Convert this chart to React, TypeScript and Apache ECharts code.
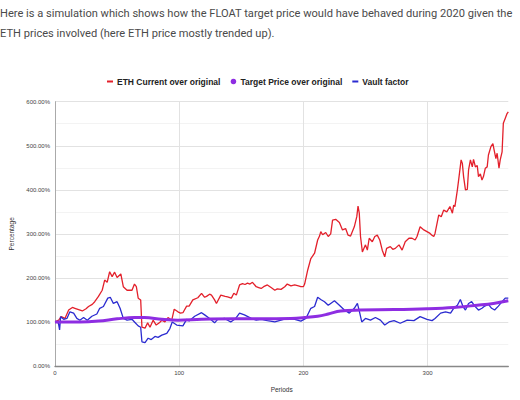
import React, { useEffect, useRef } from "react";
import * as echarts from "echarts";

const introLines = [
  "Here is a simulation which shows how the FLOAT target price would have behaved during 2020 given the",
  "ETH prices involved (here ETH price mostly trended up).",
];

const seriesNames = ["ETH Current over original", "Target Price over original", "Vault factor"];
const seriesColors = ["#e3202b", "#8e2de2", "#2b2bd0"];

const xTicks = [0, 100, 200, 300];
const yTicks = [0, 100, 200, 300, 400, 500, 600];

// [period, percent]
const ethCurrent: [number, number][] = [
  [0, 100], [3, 104], [5, 112], [8, 108], [11, 127], [14, 133], [16, 131], [19, 128], [22, 125], [25, 130],
  [27, 135], [30, 140], [32, 146], [35, 158], [38, 172], [40, 195], [42, 190], [44, 214], [46, 203], [48, 213],
  [50, 201], [53, 209], [55, 180], [58, 172], [62, 172], [64, 186], [65.5, 180], [67, 154], [69, 150], [70, 88],
  [72.5, 86], [74.6, 98], [76.5, 88], [79, 104], [81.5, 93], [84, 98], [86, 104], [88.5, 100], [91, 110], [94, 104],
  [96, 129], [99, 123], [101, 120], [103, 121], [106, 136], [108, 136], [111, 150], [115, 155], [118, 165], [120.5, 156],
  [122, 158], [124.5, 163], [126, 161], [128.5, 150], [130, 142], [133.5, 161], [137, 158], [139, 157], [142, 154], [144, 165],
  [146, 161], [148.6, 184], [151, 187], [153, 185], [155, 188], [157, 186], [159, 190], [162, 180], [164, 178], [166, 176],
  [168, 180], [171, 184], [174, 178], [177, 172], [179, 175], [182, 174], [185, 180], [187, 186], [190, 182], [193, 184],
  [196, 182], [198, 180], [200, 180], [201, 186], [203.5, 218], [206, 244], [209, 256], [211.5, 286], [213, 295], [214, 305],
  [215.5, 298], [218, 303], [220, 294], [222, 300], [223.5, 331], [226, 333], [229, 326], [231.5, 309], [234, 312], [236, 297],
  [238, 295], [241, 316], [243, 339], [244, 363], [245, 347], [246, 294], [247.5, 259], [250, 275], [251.5, 263], [253, 290],
  [255.5, 282], [257.5, 294], [259.5, 297], [261.5, 286], [263.5, 263], [265.5, 248], [267, 267], [270, 271], [272, 265], [274, 267],
  [277, 275], [279.5, 263], [282, 282], [285, 290], [287.5, 290], [290, 286], [291.5, 294], [294, 316], [297, 309], [299.5, 305],
  [302, 301], [303.5, 297], [305, 294], [306, 301], [309, 343], [311, 339], [313, 354], [315.5, 350], [318, 362], [320, 347],
  [321, 365], [322, 362], [324, 400], [325, 422], [327, 468], [328, 460], [329, 430], [330.5, 400], [332, 401], [333, 445],
  [334.5, 468], [336, 452], [337, 469], [338.5, 452], [340, 455], [341, 430], [342.5, 436], [343.8, 422], [345, 430], [346.5, 449],
  [348, 452], [349, 479], [351, 498], [352.6, 505], [353.6, 490], [355, 471], [356, 483], [357.5, 449], [358.5, 468], [360, 486],
  [361, 551], [362.5, 562], [364, 573], [365, 577],
];

const targetPrice: [number, number][] = [
  [0, 100], [20, 100], [35, 102], [50, 107], [64, 110], [72, 110], [86, 106], [99, 104], [118, 106], [144, 107],
  [166, 107], [190, 108], [201, 110], [211.5, 113], [220, 118], [230, 125], [246, 127], [273, 128], [299.5, 130], [321, 133],
  [340, 138], [353, 142], [365, 148],
];

const vaultFactor: [number, number][] = [
  [0, 100], [2.7, 98], [3.7, 82], [4.5, 112], [7, 106], [9.6, 108], [12, 123], [15, 120], [17.6, 108], [20, 104],
  [23, 110], [26, 104], [29.7, 113], [33.7, 118], [36, 131], [39, 135], [42.5, 154], [44.5, 156], [47, 142], [50, 146],
  [52.4, 131], [55, 108], [58, 104], [62, 106], [64, 100], [67, 91], [69, 88], [70, 55], [72.5, 53], [75, 63],
  [77.5, 60], [80.5, 67], [83, 65], [86, 70], [90, 74], [92.5, 85], [94.4, 100], [98, 93], [103, 91], [106, 106],
  [108, 102], [112.5, 113], [118, 121], [120.5, 116], [124.5, 108], [128.5, 98], [131, 106], [136.5, 108], [141.5, 100], [145.5, 108],
  [148.6, 120], [152.5, 116], [158, 108], [162, 104], [166, 106], [171, 103], [177, 100], [182, 104], [187, 108], [193, 106],
  [198, 102], [202, 108], [206, 131], [209, 135], [211.5, 156], [214, 151], [217, 146], [220, 138], [222, 142], [225, 148],
  [229, 138], [233, 127], [237, 120], [241, 131], [243.5, 142], [245, 125], [247, 100], [250, 108], [254, 104], [258, 110],
  [262, 104], [265.5, 93], [269, 100], [273, 103], [278, 97], [283.6, 104], [289, 103], [294, 112], [299.5, 106], [303.6, 103],
  [306, 108], [310.5, 120], [314.5, 123], [318.5, 120], [321, 131], [324, 138], [326.4, 151], [328.5, 135], [330.5, 127], [333, 142],
  [335.5, 146], [338, 136], [341, 127], [343.8, 131], [346, 136], [349, 140], [351.6, 131], [354, 127], [357, 136], [360, 146],
  [362.5, 154], [365, 154],
];

const FONT = "'Liberation Sans', Arial, sans-serif";

export default function App() {
  const ref = useRef<HTMLDivElement>(null);
  useEffect(() => {
    if (!ref.current) return;
    const chart = echarts.init(ref.current, undefined, { renderer: "svg" });
    const dashIcon = "path://M0,0M8,8M1,3h6v2h-6z";
    const dotIcon = "path://M0,0M8,8M4,1.2a2.8,2.8 0 1,0 0.001,0z";
    chart.setOption({
      animation: false,
      backgroundColor: "#ffffff",
      textStyle: { fontFamily: FONT },
      graphic: introLines.map((t, i) => ({
        type: "text",
        left: 0,
        top: 8 + i * 20,
        style: { text: t, fill: "#4a4a4a", font: "11.1px Roboto, 'Noto Sans', sans-serif" },
      })),
      legend: {
        top: 72,
        left: 101,
        itemWidth: 8,
        itemHeight: 8,
        itemGap: 9,
        textStyle: { fontSize: 8.5, fontWeight: "bold", color: "#222", fontFamily: FONT, padding: [0, 0, 0, -2] },
        data: [
          { name: seriesNames[0], icon: dashIcon },
          { name: seriesNames[1], icon: dotIcon },
          { name: seriesNames[2], icon: dashIcon },
        ],
      },
      grid: { left: 53, right: 11.7, top: 101.7, bottom: 34 },
      xAxis: {
        type: "value",
        min: xTicks[0],
        max: 365,
        interval: 100,
        name: "Periods",
        nameLocation: "middle",
        nameGap: 20,
        nameTextStyle: { fontSize: 6.5, color: "#333", fontFamily: FONT },
        axisLine: { show: true, lineStyle: { color: "#888", width: 1.3 } },
        axisTick: { show: false },
        axisLabel: {
          fontSize: 6,
          color: "#444",
          margin: 4,
          showMaxLabel: false,
          formatter: (v: number) => (xTicks.includes(v) ? String(v) : ""),
        },
        splitLine: { show: true, showMaxLine: false, lineStyle: { color: "#e2e2e2", width: 1 } },
      },
      yAxis: {
        type: "value",
        min: yTicks[0],
        max: yTicks[yTicks.length - 1],
        interval: 100,
        name: "Percentage",
        nameLocation: "middle",
        nameRotate: 90,
        nameGap: 40,
        nameTextStyle: { fontSize: 6.5, color: "#333", fontFamily: FONT },
        axisLine: { show: true, lineStyle: { color: "#aaa", width: 1 } },
        axisTick: { show: false },
        axisLabel: {
          fontSize: 6,
          color: "#444",
          margin: 5,
          formatter: (v: number) => (yTicks.includes(v) ? v.toFixed(2) + "%" : ""),
        },
        splitLine: { show: true, lineStyle: { color: "#e2e2e2", width: 1 } },
        minorTick: { show: false, splitNumber: 2 },
        minorSplitLine: { show: true, lineStyle: { color: "#f3f3f3", width: 1 } },
      },
      series: [
        {
          name: seriesNames[0],
          type: "line",
          data: ethCurrent,
          showSymbol: false,
          symbol: "none",
          lineStyle: { color: seriesColors[0], width: 1.3 },
          itemStyle: { color: seriesColors[0] },
          z: 3,
        },
        {
          name: seriesNames[1],
          type: "line",
          data: targetPrice,
          smooth: 0.4,
          showSymbol: false,
          symbol: "none",
          lineStyle: { color: seriesColors[1], width: 3 },
          itemStyle: { color: seriesColors[1] },
          z: 5,
        },
        {
          name: seriesNames[2],
          type: "line",
          data: vaultFactor,
          showSymbol: false,
          symbol: "none",
          lineStyle: { color: seriesColors[2], width: 1.3 },
          itemStyle: { color: seriesColors[2] },
          z: 4,
        },
      ],
    });
    return () => chart.dispose();
  }, []);
  return (
    <div
      ref={ref}
      style={{ position: "fixed", left: 0, top: 0, width: 520, height: 400, background: "#fff" }}
    />
  );
}
